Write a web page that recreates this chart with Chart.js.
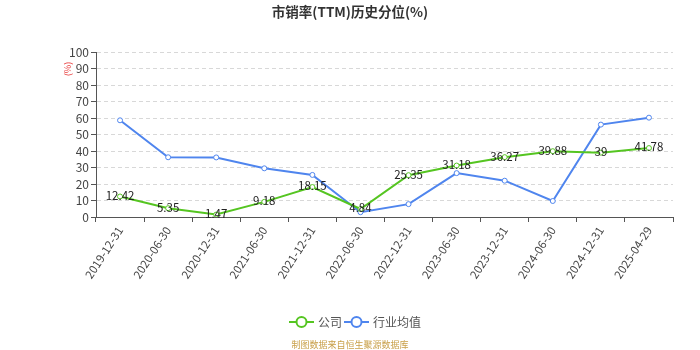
<!DOCTYPE html>
<html>
<head>
<meta charset="utf-8">
<script src="https://cdn.jsdelivr.net/npm/chart.js@4/dist/chart.umd.min.js"></script>
<style>
  html, body { margin: 0; padding: 0; background: #fff; }
  #wrap { width: 700px; height: 350px; }
</style>
</head>
<body>
<div id="wrap"><canvas id="chart" width="700" height="350"></canvas></div>
<script>
// 报告期
const dates = ['2019-12-31', '2020-06-30', '2020-12-31', '2021-06-30', '2021-12-31', '2022-06-30',
    '2022-12-31', '2023-06-30', '2023-12-31', '2024-06-30', '2024-12-31', '2025-04-29'];

// 公司市销率历史分位
const companyPct = [12.42, 5.35, 1.47, 9.18, 18.15, 4.84, 25.35, 31.18, 36.27, 39.88, 39, 41.78];

// 行业均值
const industryPct = [58.6, 36.2, 36.1, 29.5, 25.5, 2.9, 7.8, 26.6, 22.0, 9.7, 56.0, 60.2];

const yTicks = [0, 10, 20, 30, 40, 50, 60, 70, 80, 90, 100];

const GREEN = '#55c521';
const BLUE = '#4f85ee';
const FONT = '"Noto Sans CJK SC", "DejaVu Sans", sans-serif';

// 在公司数据点上标注数值
const valueLabels = {
    id: 'valueLabels',
    afterDatasetsDraw(chart) {
        const ctx = chart.ctx;
        const meta = chart.getDatasetMeta(0);
        ctx.save();
        ctx.font = '11.5px ' + FONT;
        ctx.fillStyle = '#222';
        ctx.textAlign = 'center';
        ctx.textBaseline = 'middle';
        meta.data.forEach((pt, i) => {
            ctx.fillText(String(companyPct[i]), pt.x, pt.y - 1);
        });
        ctx.restore();
    }
};

// 标题、图例、纵轴单位及数据来源
const decorations = {
    id: 'decorations',
    afterDraw(chart) {
        const ctx = chart.ctx;

        ctx.save();
        ctx.font = 'bold 13.5px ' + FONT;
        ctx.fillStyle = '#333';
        ctx.textAlign = 'center';
        ctx.textBaseline = 'middle';
        ctx.fillText('市销率(TTM)历史分位(%)', 350, 12);
        ctx.restore();

        // 图例
        const items = [
            { label: chart.data.datasets[0].label, color: GREEN, x: 289 },
            { label: chart.data.datasets[1].label, color: BLUE, x: 344 }
        ];
        const ly = 322;
        items.forEach(it => {
            ctx.save();
            ctx.strokeStyle = it.color;
            ctx.lineWidth = 2;
            ctx.beginPath(); ctx.moveTo(it.x, ly); ctx.lineTo(it.x + 25, ly); ctx.stroke();
            ctx.beginPath(); ctx.arc(it.x + 12.5, ly, 5, 0, Math.PI * 2);
            ctx.fillStyle = '#fff'; ctx.fill(); ctx.stroke();
            ctx.font = '12px ' + FONT;
            ctx.fillStyle = '#555';
            ctx.textAlign = 'left';
            ctx.textBaseline = 'middle';
            ctx.fillText(it.label, it.x + 29, ly);
            ctx.restore();
        });

        ctx.save();
        ctx.font = '9px ' + FONT;
        ctx.fillStyle = '#e84040';
        ctx.translate(68, 69);
        ctx.rotate(-Math.PI / 2);
        ctx.textAlign = 'center';
        ctx.textBaseline = 'middle';
        ctx.fillText('(%)', 0, 0);
        ctx.restore();

        ctx.save();
        ctx.font = '9px ' + FONT;
        ctx.fillStyle = '#c9a04a';
        ctx.textAlign = 'center';
        ctx.textBaseline = 'middle';
        ctx.fillText('制图数据来自恒生聚源数据库', 350, 345);
        ctx.restore();
    }
};

new Chart(document.getElementById('chart'), {
    type: 'line',
    data: {
        labels: dates,
        datasets: [
            {
                label: '公司',
                data: companyPct,
                borderColor: GREEN,
                backgroundColor: '#fff',
                borderWidth: 2,
                pointRadius: 2.5,
                pointBorderWidth: 1,
                pointBackgroundColor: '#fff',
                pointBorderColor: GREEN,
                tension: 0,
                order: 1
            },
            {
                label: '行业均值',
                data: industryPct,
                borderColor: BLUE,
                backgroundColor: '#fff',
                borderWidth: 2,
                pointRadius: 2.5,
                pointBorderWidth: 1,
                pointBackgroundColor: '#fff',
                pointBorderColor: BLUE,
                tension: 0,
                order: 2
            }
        ]
    },
    options: {
        responsive: false,
        animation: false,
        layout: { padding: { top: 52, right: 27, left: 0, bottom: 55 } },
        plugins: {
            title: { display: false },
            legend: { display: false },
            tooltip: { enabled: false }
        },
        scales: {
            x: {
                offset: true,
                grid: {
                    display: true,
                    drawOnChartArea: false,
                    offset: true,
                    tickLength: 5,
                    color: '#555'
                },
                border: { color: '#555', width: 1 },
                ticks: {
                    color: '#444',
                    font: { family: FONT, size: 11.5 },
                    minRotation: 57,
                    maxRotation: 57,
                    autoSkip: false,
                    padding: 2
                },
                afterFit(scale) { scale.height = 78; }
            },
            y: {
                min: 0,
                max: 100,
                afterBuildTicks(scale) { scale.ticks = yTicks.map(v => ({ value: v })); },
                grid: {
                    color: '#d8d8d8',
                    tickColor: '#555',
                    tickLength: 5,
                    drawTicks: true
                },
                border: { color: '#555', width: 1, dash: [4, 3] },
                ticks: {
                    color: '#444',
                    font: { family: FONT, size: 12 },
                    autoSkip: false,
                    padding: 2
                },
                afterFit(scale) { scale.width = 96; }
            }
        }
    },
    plugins: [valueLabels, decorations]
});
</script>
</body>
</html>
